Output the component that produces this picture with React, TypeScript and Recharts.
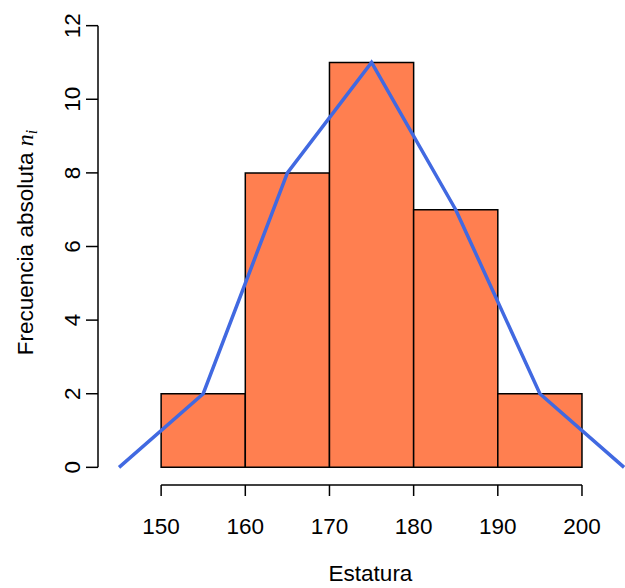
import { ComposedChart, Line, XAxis, YAxis, ReferenceArea, ReferenceLine, Label } from "recharts";

// histogram bins
const binStarts = [150, 160, 170, 180, 190];
const binEnds = [160, 170, 180, 190, 200];
const counts = [2, 8, 11, 7, 2];

// frequency polygon (class marks, closed at both ends)
const polyX = [145, 155, 165, 175, 185, 195, 205];
const polyY = [0, 2, 8, 11, 7, 2, 0];

const xTicks = [150, 160, 170, 180, 190, 200];
const yTicks = [0, 2, 4, 6, 8, 10, 12];

const FONT = "'Liberation Sans', Arial, Helvetica, sans-serif";
const SERIF = "'Liberation Serif', 'DejaVu Serif', serif";
const FS = 22.5;
const data = polyX.map((x, i) => ({ x, n: polyY[i] }));

function XTick({ x, y, payload }: any) {
  return (
    <text x={x} y={y} dy={36} textAnchor="middle" fontSize={FS} fontFamily={FONT} fill="#000">
      {payload.value}
    </text>
  );
}

function YTick({ y, payload }: any) {
  return (
    <text transform={`translate(80,${y}) rotate(-90)`} textAnchor="middle" fontSize={FS} fontFamily={FONT} fill="#000">
      {payload.value}
    </text>
  );
}

function XTitle({ viewBox }: any) {
  const cx = viewBox.x + viewBox.width / 2;
  return (
    <text x={cx} y={580.5} textAnchor="middle" fontSize={FS} fontFamily={FONT} fill="#000">
      Estatura
    </text>
  );
}

function YTitle({ viewBox }: any) {
  const cy = viewBox.y + viewBox.height / 2;
  return (
    <text transform={`translate(33,${cy - 4}) rotate(-90)`} textAnchor="middle" fontSize={FS} fontFamily={FONT} fill="#000">
      Frecuencia absoluta{" "}
      <tspan fontFamily={SERIF} fontStyle="italic" fontSize={24}>n</tspan>
      <tspan fontFamily={SERIF} fontStyle="italic" fontSize={16} dy={4}>i</tspan>
    </text>
  );
}

export default function App() {
  return (
    <div style={{ position: "absolute", left: 0, top: 0, width: 625, height: 588, overflow: "hidden", background: "#fff" }}>
      <ComposedChart width={645} height={588} data={data} margin={{ top: 8, right: 2, bottom: 0, left: 0 }}>
        <XAxis
          type="number"
          dataKey="x"
          domain={[142.5, 207.25]}
          allowDataOverflow
          ticks={xTicks}
          interval={0}
          axisLine={false}
          tickSize={11}
          tickLine={{ stroke: "#000", strokeWidth: 1.5 }}
          tick={<XTick />}
          height={103}
        >
          <Label content={<XTitle />} />
        </XAxis>
        <YAxis
          type="number"
          domain={[-0.48, 12.48]}
          allowDataOverflow
          ticks={yTicks}
          interval={0}
          axisLine={false}
          tickSize={12}
          tickLine={{ stroke: "#000", strokeWidth: 1.5 }}
          tick={<YTick />}
          width={98}
        >
          <Label content={<YTitle />} />
        </YAxis>
        {binStarts.map((b, i) => (
          <ReferenceArea
            key={b}
            x1={b}
            x2={binEnds[i]}
            y1={0}
            y2={counts[i]}
            fill="#FF7F50"
            fillOpacity={1}
            stroke="#000"
            strokeWidth={1.5}
            ifOverflow="visible"
          />
        ))}
        <ReferenceLine segment={[{ x: 150, y: -0.48 }, { x: 200, y: -0.48 }]} stroke="#000" strokeWidth={1.5} ifOverflow="visible" />
        <ReferenceLine segment={[{ x: 142.5, y: 0 }, { x: 142.5, y: 12 }]} stroke="#000" strokeWidth={1.5} ifOverflow="visible" />
        <Line
          type="linear"
          dataKey="n"
          stroke="#4169E1"
          strokeWidth={3.5}
          dot={false}
          activeDot={false}
          isAnimationActive={false}
        />
      </ComposedChart>
    </div>
  );
}
